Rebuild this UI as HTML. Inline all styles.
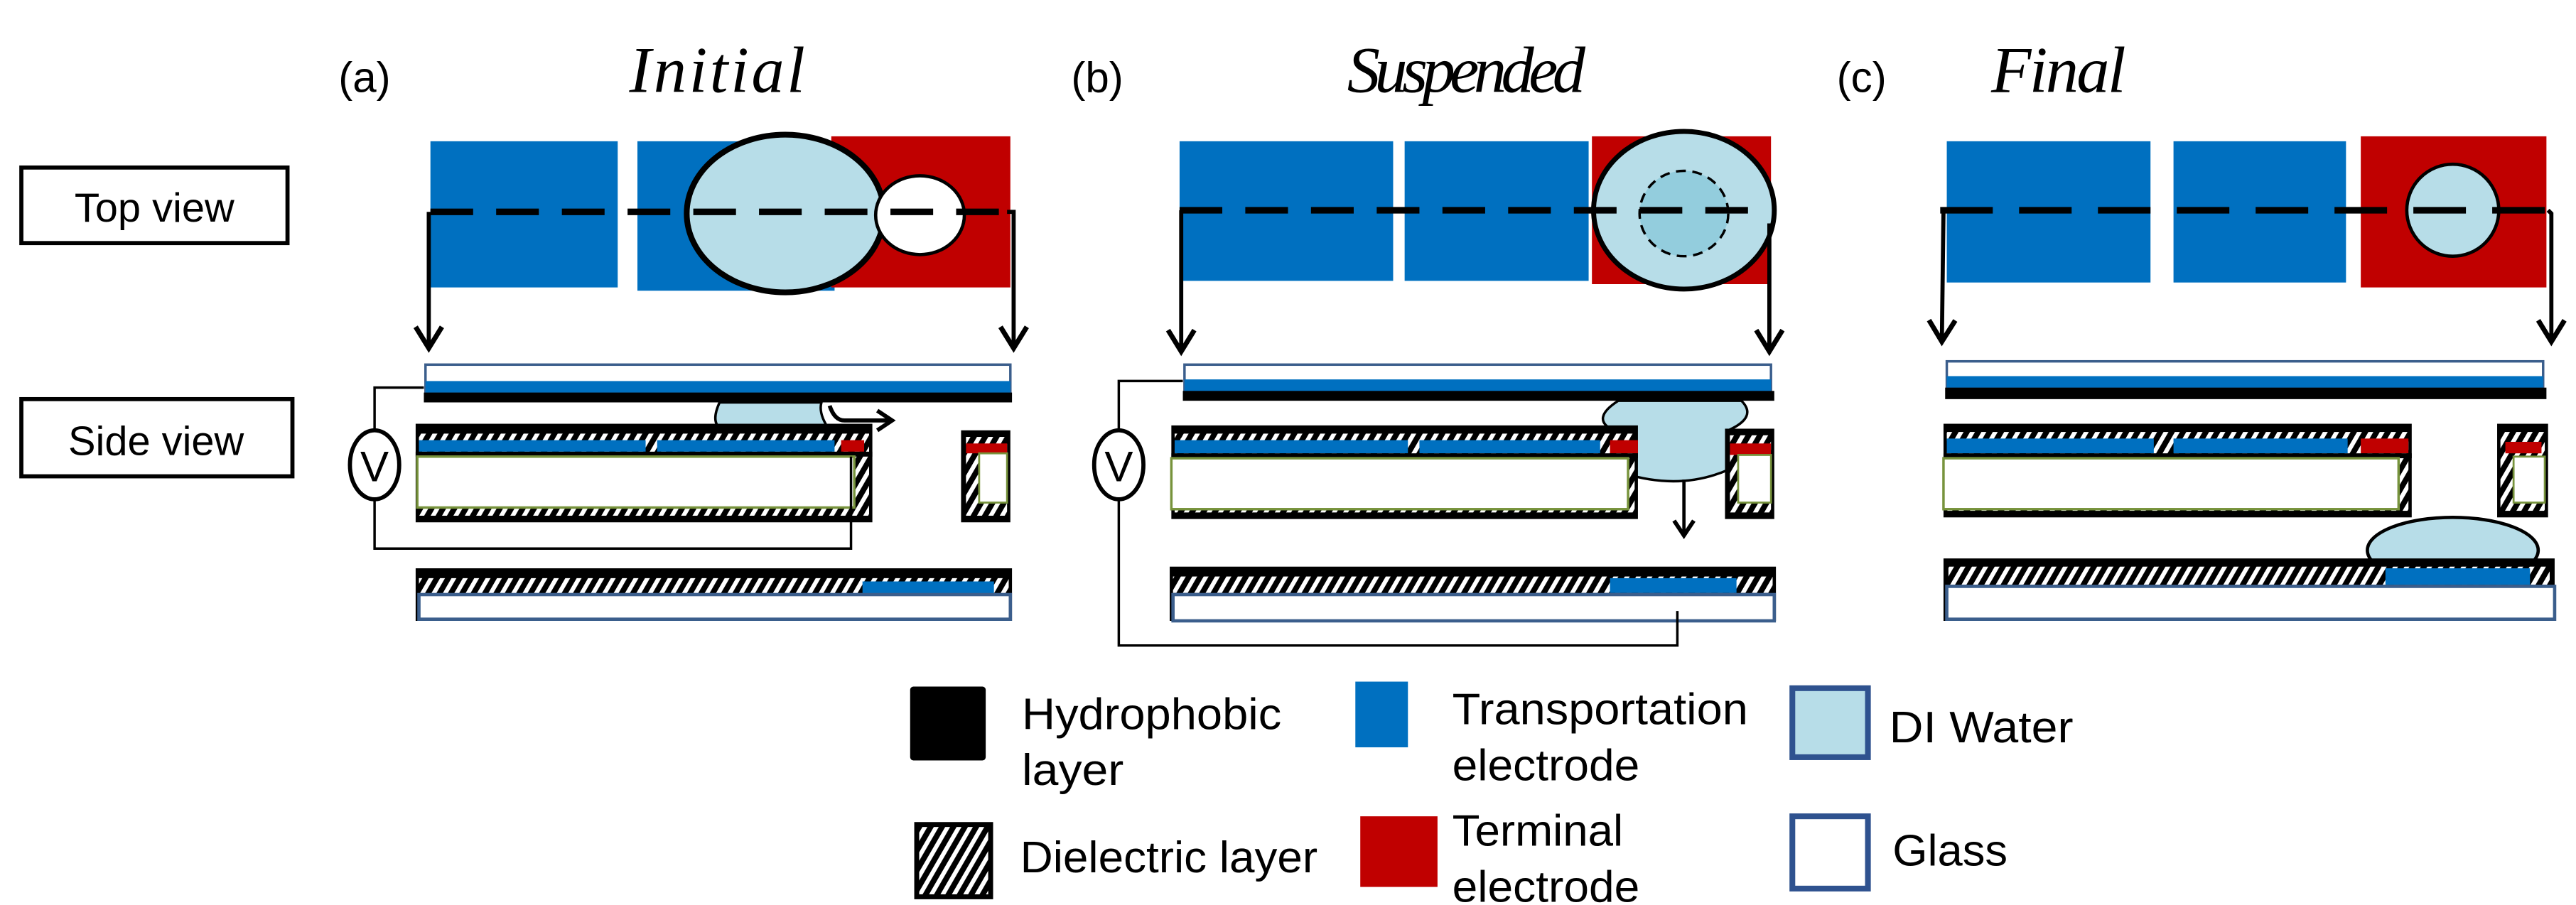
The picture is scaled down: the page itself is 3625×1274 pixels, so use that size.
<!DOCTYPE html>
<html><head><meta charset="utf-8"><style>
html,body{margin:0;padding:0;background:#fff}
svg{display:block}
text{font-family:"Liberation Sans",sans-serif}
.s{font-family:"Liberation Serif",serif;font-style:italic}
</style></head><body>
<svg width="3625" height="1274" viewBox="0 0 1568 551" preserveAspectRatio="none" xmlns="http://www.w3.org/2000/svg">
<defs>
<pattern id="h" width="6" height="6" patternUnits="userSpaceOnUse" patternTransform="rotate(30)">
<rect width="6" height="6" fill="#000"/><rect x="0" y="0" width="2.6" height="6" fill="#fff"/>
</pattern>
<marker id="ar" markerWidth="30" markerHeight="30" refX="14" refY="10" orient="auto" markerUnits="userSpaceOnUse">
<path d="M1,2 L14,10 L1,18" fill="none" stroke="#000" stroke-width="3"/>
</marker>
<marker id="ars" markerWidth="20" markerHeight="20" refX="10" refY="7" orient="auto" markerUnits="userSpaceOnUse">
<path d="M1,1 L10,7 L1,13" fill="none" stroke="#000" stroke-width="2.5"/>
</marker>
</defs>
<rect width="1568" height="551" fill="#fff"/>

<!-- labels -->
<rect x="13" y="102" width="162" height="46" fill="#fff" stroke="#000" stroke-width="2.5"/>
<text x="94" y="135" font-size="25" text-anchor="middle">Top view</text>
<rect x="13" y="243" width="165" height="47" fill="#fff" stroke="#000" stroke-width="2.5"/>
<text x="95" y="277" font-size="25" text-anchor="middle">Side view</text>

<text x="206" y="56" font-size="26">(a)</text>
<text x="383" y="56" font-size="40" class="s" textLength="107">Initial</text>
<text x="652" y="56" font-size="26">(b)</text>
<text x="820" y="56" font-size="40" class="s" textLength="145">Suspended</text>
<text x="1118" y="56" font-size="26">(c)</text>
<text x="1212" y="56" font-size="40" class="s" textLength="82">Final</text>

<!-- ===== Panel a ===== -->
<rect x="262" y="86" width="114" height="89" fill="#0070c0"/>
<rect x="388" y="86" width="120" height="91" fill="#0070c0"/>
<rect x="506" y="83" width="109" height="92" fill="#c00000"/>
<ellipse cx="478" cy="130" rx="60" ry="48" fill="#b7dde8" stroke="#000" stroke-width="3.5"/>
<ellipse cx="560" cy="131" rx="27" ry="24" fill="#fff" stroke="#000" stroke-width="2"/>
<line x1="262" y1="129" x2="615" y2="129" stroke="#000" stroke-width="4" stroke-dasharray="26,14"/>
<polyline points="261,129 261,212" fill="none" stroke="#000" stroke-width="2.5" marker-end="url(#ar)"/>
<polyline points="613,129 617,129 617,212" fill="none" stroke="#000" stroke-width="2.5" marker-end="url(#ar)"/>
<!-- side a -->
<rect x="259" y="222" width="356" height="17" fill="#fff" stroke="#3b5e8c" stroke-width="1.5"/>
<rect x="259" y="232" width="356" height="7" fill="#0070c0"/>
<rect x="258" y="239" width="358" height="6" fill="#000"/>
<path d="M438,245 Q432,258 440,262 L505,262 Q498,252 500,245 Z" fill="#b7dde8" stroke="#000" stroke-width="1.5"/>
<path d="M505,247 Q508,256 514,256 L543,256" fill="none" stroke="#000" stroke-width="2.5" marker-end="url(#ars)"/>
<rect x="253" y="258" width="278" height="60" fill="#000"/>
<rect x="255" y="264" width="274" height="50" fill="url(#h)"/>
<rect x="255" y="268" width="138" height="7" fill="#0070c0"/>
<rect x="400" y="268" width="108" height="7" fill="#0070c0"/>
<rect x="512" y="268" width="14" height="7" fill="#c00000"/>
<rect x="253" y="275" width="278" height="3" fill="#000"/>
<rect x="254" y="278" width="266" height="31" fill="#fff" stroke="#77933c" stroke-width="1.5"/>
<rect x="585" y="262" width="30" height="56" fill="#000"/>
<rect x="588" y="266" width="25" height="48" fill="url(#h)"/>
<rect x="588" y="270" width="25" height="6" fill="#c00000"/>
<rect x="596" y="276" width="17" height="30" fill="#fff" stroke="#77933c" stroke-width="1.2"/>
<rect x="253" y="346" width="363" height="32" fill="#000"/>
<rect x="255" y="352" width="359" height="10" fill="url(#h)"/>
<rect x="525" y="354" width="80" height="8" fill="#0070c0"/>
<rect x="255" y="362" width="360" height="15" fill="#fff" stroke="#3b5e8c" stroke-width="2"/>
<polyline points="258,236 228,236 228,265" fill="none" stroke="#000" stroke-width="1.5"/>
<ellipse cx="228" cy="283" rx="15" ry="21" fill="#fff" stroke="#000" stroke-width="2.5"/>
<text x="228" y="293" font-size="26" text-anchor="middle">V</text>
<polyline points="228,304 228,334 518,334 518,278" fill="none" stroke="#000" stroke-width="1.5"/>

<!-- ===== Panel b ===== -->
<rect x="718" y="86" width="130" height="85" fill="#0070c0"/>
<rect x="855" y="86" width="112" height="85" fill="#0070c0"/>
<rect x="969" y="83" width="109" height="90" fill="#c00000"/>
<ellipse cx="1025" cy="128" rx="55" ry="48" fill="#b7dde8" stroke="#000" stroke-width="3"/>
<ellipse cx="1025" cy="130" rx="27" ry="26" fill="#93cddd" stroke="#000" stroke-width="1.5" stroke-dasharray="6,4"/>
<line x1="718" y1="128" x2="1078" y2="128" stroke="#000" stroke-width="4" stroke-dasharray="26,14"/>
<polyline points="719,128 719,214" fill="none" stroke="#000" stroke-width="2.5" marker-end="url(#ar)"/>
<polyline points="1077,136 1077,214" fill="none" stroke="#000" stroke-width="2.5" marker-end="url(#ar)"/>
<rect x="721" y="222" width="357" height="16" fill="#fff" stroke="#3b5e8c" stroke-width="1.5"/>
<rect x="721" y="231" width="357" height="7" fill="#0070c0"/>
<rect x="720" y="238" width="360" height="6" fill="#000"/>
<path d="M985,244 Q968,255 982,262 L982,286 Q1020,300 1052,286 L1052,262 Q1070,254 1060,244 Z" fill="#b7dde8" stroke="#000" stroke-width="1.5"/>
<rect x="713" y="259" width="284" height="57" fill="#000"/>
<rect x="715" y="264" width="280" height="48" fill="url(#h)"/>
<rect x="715" y="268" width="142" height="8" fill="#0070c0"/>
<rect x="864" y="268" width="110" height="8" fill="#0070c0"/>
<rect x="980" y="268" width="17" height="8" fill="#c00000"/>
<rect x="713" y="276" width="284" height="3" fill="#000"/>
<rect x="713" y="279" width="278" height="31" fill="#fff" stroke="#77933c" stroke-width="1.5"/>
<rect x="1050" y="261" width="30" height="55" fill="#000"/>
<rect x="1053" y="265" width="25" height="47" fill="url(#h)"/>
<rect x="1053" y="270" width="25" height="7" fill="#c00000"/>
<rect x="1058" y="277" width="20" height="29" fill="#fff" stroke="#77933c" stroke-width="1.2"/>
<polyline points="1025,292 1025,326" fill="none" stroke="#000" stroke-width="2" marker-end="url(#ars)"/>
<rect x="712" y="345" width="369" height="33" fill="#000"/>
<rect x="714" y="351" width="365" height="10" fill="url(#h)"/>
<rect x="980" y="352" width="77" height="9" fill="#0070c0"/>
<rect x="714" y="362" width="366" height="16" fill="#fff" stroke="#3b5e8c" stroke-width="2"/>
<polyline points="720,232 681,232 681,265" fill="none" stroke="#000" stroke-width="1.5"/>
<ellipse cx="681" cy="283" rx="15" ry="21" fill="#fff" stroke="#000" stroke-width="2.5"/>
<text x="681" y="293" font-size="26" text-anchor="middle">V</text>
<polyline points="681,304 681,393 1021,393 1021,372" fill="none" stroke="#000" stroke-width="1.5"/>

<!-- ===== Panel c ===== -->
<rect x="1185" y="86" width="124" height="86" fill="#0070c0"/>
<rect x="1323" y="86" width="105" height="86" fill="#0070c0"/>
<rect x="1437" y="83" width="113" height="92" fill="#c00000"/>
<ellipse cx="1493" cy="128" rx="28" ry="28" fill="#b7dde8" stroke="#000" stroke-width="2"/>
<line x1="1181" y1="128" x2="1550" y2="128" stroke="#000" stroke-width="4" stroke-dasharray="32,16"/>
<polyline points="1183,128 1182,208" fill="none" stroke="#000" stroke-width="2.5" marker-end="url(#ar)"/>
<polyline points="1551,128 1553,130 1553,208" fill="none" stroke="#000" stroke-width="2.5" marker-end="url(#ar)"/>
<rect x="1185" y="220" width="363" height="16" fill="#fff" stroke="#3b5e8c" stroke-width="1.5"/>
<rect x="1185" y="229" width="363" height="7" fill="#0070c0"/>
<rect x="1184" y="236" width="366" height="7" fill="#000"/>
<rect x="1183" y="258" width="285" height="57" fill="#000"/>
<rect x="1185" y="263" width="281" height="48" fill="url(#h)"/>
<rect x="1185" y="267" width="126" height="9" fill="#0070c0"/>
<rect x="1323" y="267" width="106" height="9" fill="#0070c0"/>
<rect x="1437" y="267" width="29" height="9" fill="#c00000"/>
<rect x="1183" y="276" width="285" height="3" fill="#000"/>
<rect x="1183" y="279" width="277" height="31" fill="#fff" stroke="#77933c" stroke-width="1.5"/>
<rect x="1520" y="258" width="31" height="57" fill="#000"/>
<rect x="1522" y="263" width="27" height="48" fill="url(#h)"/>
<rect x="1525" y="269" width="22" height="7" fill="#c00000"/>
<rect x="1530" y="278" width="19" height="28" fill="#fff" stroke="#77933c" stroke-width="1.2"/>
<ellipse cx="1493" cy="335" rx="52" ry="20" fill="#b7dde8" stroke="#000" stroke-width="2"/>
<rect x="1183" y="340" width="372" height="38" fill="#000"/>
<rect x="1186" y="345" width="366" height="11" fill="url(#h)"/>
<rect x="1452" y="346" width="88" height="10" fill="#0070c0"/>
<rect x="1185" y="357" width="370" height="20" fill="#fff" stroke="#3b5e8c" stroke-width="2"/>

<!-- ===== Legend ===== -->
<rect x="554" y="418" width="46" height="45" rx="2" fill="#000"/>
<text x="622" y="444" font-size="27" textLength="158" lengthAdjust="spacingAndGlyphs">Hydrophobic</text>
<text x="622" y="478" font-size="27" textLength="62" lengthAdjust="spacingAndGlyphs">layer</text>
<rect x="558" y="502" width="45" height="44" fill="url(#h)" stroke="#000" stroke-width="3"/>
<text x="621" y="531" font-size="27" textLength="181" lengthAdjust="spacingAndGlyphs">Dielectric layer</text>
<rect x="825" y="415" width="32" height="40" fill="#0070c0"/>
<text x="884" y="441" font-size="27" textLength="180" lengthAdjust="spacingAndGlyphs">Transportation</text>
<text x="884" y="475" font-size="27" textLength="114" lengthAdjust="spacingAndGlyphs">electrode</text>
<rect x="828" y="497" width="47" height="43" fill="#c00000"/>
<text x="884" y="515" font-size="27" textLength="104" lengthAdjust="spacingAndGlyphs">Terminal</text>
<text x="884" y="549" font-size="27" textLength="114" lengthAdjust="spacingAndGlyphs">electrode</text>
<rect x="1091" y="419" width="46" height="42" fill="#b7dde8" stroke="#2f528f" stroke-width="3.5"/>
<text x="1150" y="452" font-size="27" textLength="112" lengthAdjust="spacingAndGlyphs">DI Water</text>
<rect x="1091" y="497" width="46" height="44" fill="#fff" stroke="#2f528f" stroke-width="3.5"/>
<text x="1152" y="527" font-size="27" textLength="70" lengthAdjust="spacingAndGlyphs">Glass</text>
</svg>
</body></html>
